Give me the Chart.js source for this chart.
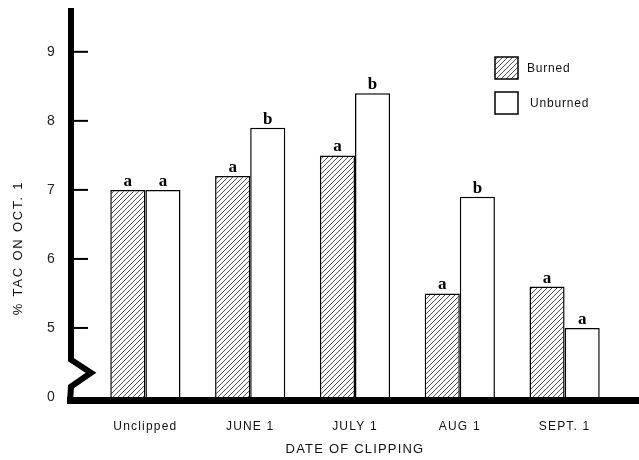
<!DOCTYPE html>
<html>
<head>
<meta charset="utf-8">
<script src="https://cdn.jsdelivr.net/npm/chart.js@4.4.1/dist/chart.umd.min.js"></script>
<style>
html, body { margin: 0; padding: 0; background: #fff; }
</style>
</head>
<body>
<canvas id="tac" width="639" height="460"></canvas>
<script>
const dates = ['Unclipped', 'JUNE 1', 'JULY 1', 'AUG 1', 'SEPT. 1'];
const burned = [7.0, 7.2, 7.5, 5.5, 5.6];
const unburned = [7.0, 7.9, 8.4, 6.9, 5.0];
const burnedLetters = ['a', 'a', 'a', 'a', 'a'];
const unburnedLetters = ['a', 'b', 'b', 'b', 'a'];
// the axis is broken: the value 4 sits where "0" is printed
const yTicks = [4, 5, 6, 7, 8, 9];
const yTickLabels = ['0', '5', '6', '7', '8', '9'];

Chart.defaults.font.family = "'Liberation Sans', Arial, sans-serif";

const canvas = document.getElementById('tac');
const ctx = canvas.getContext('2d');

function makeHatch() {
  let c = document.createElement('canvas');
  c.width = 5; c.height = 5;
  let g = c.getContext('2d');
  g.fillStyle = '#fff';
  g.fillRect(0, 0, 5, 5);
  g.strokeStyle = '#3a3a3a';
  g.lineWidth = 0.9;
  g.beginPath();
  g.moveTo(-1, 6); g.lineTo(6, -1);
  g.moveTo(-1, 1); g.lineTo(1, -1);
  g.moveTo(4, 6); g.lineTo(6, 4);
  g.stroke();
  return ctx.createPattern(c, 'repeat');
}
const hatch = makeHatch();

const decorations = {
  id: 'decorations',
  beforeLayout(chart) { chart.ctx.letterSpacing = '1.2px'; },
  beforeDraw(chart) { chart.ctx.letterSpacing = '1.2px'; },
  afterDatasetsDraw(chart) {
    const c = chart.ctx;
    const a = chart.chartArea;
    const y = chart.scales.y;
    const ax = a.left - 22;
    c.save();
    c.strokeStyle = '#000';
    c.lineJoin = 'miter';

    // y axis with the break
    c.lineWidth = 6;
    c.beginPath();
    c.moveTo(ax, 8);
    c.lineTo(ax, y.getPixelForValue(4.54));
    c.lineTo(ax + 20, y.getPixelForValue(4.35));
    c.lineTo(ax, y.getPixelForValue(4.15));
    c.lineTo(ax - 1, a.bottom + 5);
    c.stroke();

    // x axis
    c.lineWidth = 7;
    c.beginPath();
    c.moveTo(ax - 4, a.bottom + 3.5);
    c.lineTo(chart.width, a.bottom + 3.5);
    c.stroke();

    // tick marks
    c.lineWidth = 2;
    yTicks.slice(1).forEach(v => {
      let py = y.getPixelForValue(v);
      c.beginPath();
      c.moveTo(ax + 3, py);
      c.lineTo(ax + 17, py);
      c.stroke();
    });

    // letters over the bars
    c.letterSpacing = '0px';
    c.fillStyle = '#000';
    c.font = "bold 17px 'Liberation Serif', serif";
    c.textAlign = 'center';
    c.textBaseline = 'alphabetic';
    [burnedLetters, unburnedLetters].forEach((letters, i) => {
      chart.getDatasetMeta(i).data.forEach((bar, j) => {
        c.fillText(letters[j], bar.x, bar.y - 4);
      });
    });

    // legend
    c.font = "12px 'Liberation Sans', Arial, sans-serif";
    c.letterSpacing = '0.8px';
    c.textAlign = 'left';
    c.textBaseline = 'middle';
    c.lineWidth = 1.5;
    chart.data.datasets.forEach((ds, i) => {
      let bx = 495, by = 57 + i * 35;
      c.fillStyle = ds.backgroundColor;
      c.fillRect(bx, by, 23, 22);
      c.strokeRect(bx, by, 23, 22);
      c.fillStyle = '#111';
      c.fillText(ds.label, bx + 32 + i * 3, by + 12);
    });

    // y title
    c.translate(18, 248);
    c.rotate(-Math.PI / 2);
    c.textAlign = 'center';
    c.font = "13px 'Liberation Sans', Arial, sans-serif";
    c.letterSpacing = '1.8px';
    c.fillText('% TAC ON OCT. 1', 0, 0);
    c.restore();
  }
};

let tacChart = new Chart(ctx, {
  type: 'bar',
  data: {
    labels: dates,
    datasets: [{
      label: 'Burned',
      data: burned,
      backgroundColor: hatch,
      borderColor: '#000',
      borderWidth: 1.5,
      categoryPercentage: 0.67,
      barPercentage: 1.0
    }, {
      label: 'Unburned',
      data: unburned,
      backgroundColor: '#fff',
      borderColor: '#000',
      borderWidth: 1.5,
      categoryPercentage: 0.67,
      barPercentage: 1.0
    }]
  },
  options: {
    responsive: false,
    animation: false,
    devicePixelRatio: 1,
    layout: { padding: { left: 11, right: 22, top: 10, bottom: 0 } },
    plugins: {
      legend: { display: false },
      tooltip: { enabled: false }
    },
    scales: {
      x: {
        grid: { display: false },
        border: { display: false },
        afterFit: s => { s.height = 63; },
        ticks: { padding: 14, color: '#111', font: { size: 12 } },
        title: {
          display: true,
          text: 'DATE OF CLIPPING',
          color: '#111',
          font: { size: 13 },
          padding: { top: 0, bottom: 3 }
        }
      },
      y: {
        min: 4,
        max: 9.6,
        afterBuildTicks: s => { s.ticks = yTicks.map(v => ({ value: v })); },
        afterFit: s => { s.width = 82; },
        grid: {
          display: true,
          drawOnChartArea: false,
          drawTicks: true,
          tickLength: 35,
          color: 'rgba(0,0,0,0)'
        },
        border: { display: false },
        ticks: {
          padding: 2,
          color: '#222',
          font: { size: 14 },
          callback: (v, i) => yTickLabels[i]
        }
      }
    }
  },
  plugins: [decorations]
});
</script>
</body>
</html>
